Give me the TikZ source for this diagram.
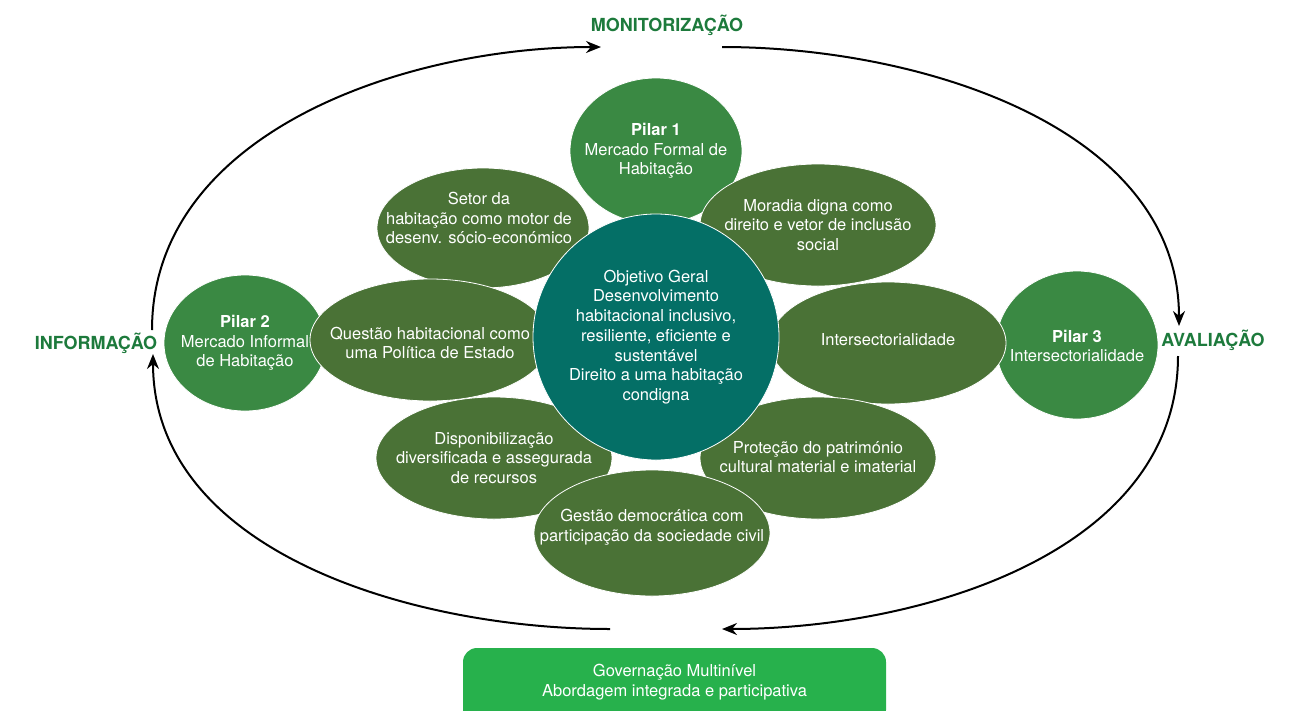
\documentclass[tikz,border=0pt]{standalone}
\usepackage{fontspec}
\setmainfont{TeX Gyre Heros}
\usepackage{tikz}
\usetikzlibrary{shapes.geometric, arrows.meta}

\definecolor{pilargreen}{HTML}{3A8943}
\definecolor{olivegreen}{HTML}{4A7236}
\definecolor{tealgoal}{HTML}{046F66}
\definecolor{govgreen}{HTML}{27B14C}
\definecolor{labelgreen}{HTML}{1D7A3C}

\begin{document}
\begin{tikzpicture}[x=1pt, y=1pt, >={Stealth[length=15pt,width=12pt]}, line width=2pt, align=center,
    every node/.style={font=\fontsize{16.5}{19.7}\selectfont, text=white},
    pilar/.style={ellipse, fill=pilargreen, draw=white, line width=0.8pt, inner sep=0pt},
    axis/.style={ellipse, fill=olivegreen, draw=white, line width=0.8pt, inner sep=0pt, minimum width=236pt, minimum height=122pt},
    goal/.style={circle, fill=tealgoal, draw=white, line width=0.8pt, minimum size=246pt, inner sep=0pt},
    phase/.style={font=\fontsize{18}{20}\selectfont\bfseries, text=labelgreen}]
  \useasboundingbox (0,0) rectangle (1294,-710);

  % pilares
  \node[pilar, minimum width=172pt, minimum height=146pt, label=center:{\textbf{Pilar 1}\\Mercado Formal de\\Habitação}] (p1) at (656,-151) {};
  \node[pilar, minimum width=162pt, minimum height=136pt, label=center:{\textbf{Pilar 2}\\Mercado Informal\\de Habitação}] (p2) at (245,-343) {};
  \node[pilar, minimum width=162pt, minimum height=148pt, label={[yshift=-1pt]center:{\textbf{Pilar 3}\\Intersectorialidade}}] (p3) at (1077,-345) {};

  % eixos
  \node[axis, minimum width=212pt, minimum height=120pt, label={[xshift=-4pt, yshift=10pt]center:{Setor da\\habitação como motor de\\desenv. sócio-económico}}] (setor) at (483,-228) {};
  \node[axis, label=center:{Moradia digna como\\direito e vetor de inclusão\\social}] (moradia) at (818,-225) {};
  \node[axis, minimum width=240pt, label={[yshift=-3pt]center:{Questão habitacional como\\uma Política de Estado}}] (questao) at (430,-340) {};
  \node[axis, label={[yshift=3pt]center:{Intersectorialidade}}] (inter) at (888,-343) {};
  \node[axis, label=center:{Disponibilização\\diversificada e assegurada\\de recursos}] (disp) at (494,-458) {};
  \node[axis, label={[yshift=1pt]center:{Proteção do património\\cultural material e imaterial}}] (protecao) at (818,-458) {};
  \node[axis, minimum height=126pt, label={[yshift=6pt]center:{Gestão democrática com\\participação da sociedade civil}}] (gestao) at (652,-533) {};

  \node[goal, label=center:{Objetivo Geral\\Desenvolvimento\\habitacional inclusivo,\\resiliente, eficiente e\\sustentável\\Direito a uma habitação\\condigna}] (objetivo) at (656,-337) {};

  \node[rounded corners=14pt, fill=govgreen, minimum width=423pt, minimum height=76pt, label={[yshift=4pt]center:{Governação Multinível\\Abordagem integrada e participativa}}] (gov) at (674.5,-686) {};

  % ciclo
  \node[phase] (mon) at (667,-25) {MONITORIZAÇÃO};
  \node[phase] (ava) at (1213,-340) {AVALIAÇÃO};
  \node[phase] (inf) at (96,-343) {INFORMAÇÃO};

  \coordinate (a1) at (152,-330);
  \coordinate (a2) at (601,-47);
  \coordinate (b1) at (722,-47);
  \coordinate (b2) at (1179,-326);
  \coordinate (c1) at (1178,-356);
  \coordinate (c2) at (722,-629);
  \coordinate (d1) at (610,-629);
  \coordinate (d2) at (153,-354);

  \path[->]
        (a1) edge [out=90, in=180, looseness=0.95]  (a2)
        (b1) edge [out=0, in=90, looseness=0.95]    (b2)
        (c1) edge [out=-90, in=0, looseness=0.95]   (c2)
        (d1) edge [out=180, in=-90, looseness=0.95] (d2)
        ;
\end{tikzpicture}
\end{document}
